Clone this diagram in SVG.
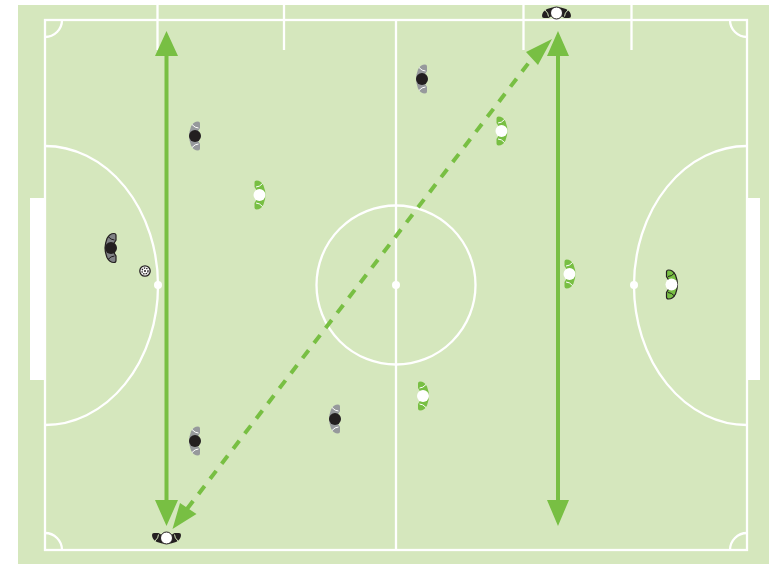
<svg xmlns="http://www.w3.org/2000/svg" width="769" height="564" viewBox="0 0 769 564">
<style>
.l{fill:none;stroke:#fff;stroke-width:2.300}
.a{fill:none;stroke:#78bf43;stroke-width:4}
.h{fill:#78bf43}
.s{fill:#fff}
.b{fill:var(--bf);stroke:var(--bs);stroke-width:var(--bw)}
.c{fill:none;stroke:var(--cs);stroke-width:1}
.d{fill:var(--df);stroke:var(--ds);stroke-width:1}
.gr{--bf:#96999c;--bs:none;--bw:0;--cs:#fff;--df:#231f20;--ds:none}
.gn{--bf:#78bf43;--bs:none;--bw:0;--cs:#fff;--df:#fff;--ds:none}
.kd{--bf:#808285;--bs:#231f20;--bw:1.200;--cs:#231f20;--df:#231f20;--ds:none}
.kg{--bf:#78bf43;--bs:#231f20;--bw:1.200;--cs:#231f20;--df:#fff;--ds:none}
.kw{--bf:#231f20;--bs:none;--bw:0;--cs:#d5e7bd;--df:#fff;--ds:#231f20}
</style>
<defs>
<g id="p">
<path class="b" d="M-5,-12.500Q-5,-14.500 -3,-14.500Q1.500,-14.500 4,-9.500Q6,-4 6,0Q6,4 4,9.500Q1.500,14.500 -3,14.500Q-5,14.500 -5,12.500L-5,8L0,0L-5,-8Z"/>
<path class="c" d="M-3.500,-8Q0,-8 3,-11.500M-3.500,8Q0,8 3,11.500"/>
<circle class="d" r="6"/>
</g>
</defs>
<rect x="18" y="5" width="751" height="559" fill="#d5e7bd"/>
<g id="pitch">
<rect x="45" y="20" width="702" height="530" class="l"/>
<path class="l" d="M396,20V550M157.500,5V50M284,5V50M523.500,5V50M631.500,5V50"/>
<circle cx="396" cy="285" r="79.500" class="l"/>
<path class="l" d="M45,146A113,139.500 0 0 1 45,425M747,146A113,139.500 0 0 0 747,425"/>
<path class="l" d="M45,37A17,17 0 0 0 62,20M730,20A17,17 0 0 0 747,37M45,533A17,17 0 0 1 62,550M730,550A17,17 0 0 1 747,533"/>
<rect x="30" y="198" width="15" height="182" class="s"/>
<rect x="746" y="198" width="14" height="182" class="s"/>
<circle cx="158" cy="285" r="4" class="s"/><circle cx="396" cy="285" r="4" class="s"/><circle cx="634" cy="285" r="4" class="s"/>
</g>
<g id="connectors">
<path class="a" d="M166.500,55V502"/><path class="h" d="M166.500,31L178,56H155ZM166.500,526L155,500H178Z"/>
<path class="a" d="M558,55V502"/><path class="h" d="M558,31L569,56H547ZM558,526L547,500H569Z"/>
<path class="a" d="M187,509L537,52" stroke-dasharray="10 9"/>
<path class="h" d="M172.500,529L180,503L196.500,514ZM552,39L526,52L538,65Z"/>
</g>
<g id="ball"><circle cx="145" cy="271" r="5.200" fill="#fff" stroke="#231f20" stroke-width="1.300"/><circle cx="145" cy="271" r="3" fill="none" stroke="#231f20" stroke-width="1.300" stroke-dasharray="1.500 1"/><circle cx="145" cy="271" r="1" fill="#231f20"/></g>
<g id="d1" class="gr"><use href="#p" transform="translate(422,79) scale(-1,1)"/></g>
<g id="d2" class="gr"><use href="#p" transform="translate(195,136) scale(-1,1)"/></g>
<g id="d3" class="gr"><use href="#p" transform="translate(195,441) scale(-1,1)"/></g>
<g id="d4" class="gr"><use href="#p" transform="translate(335,419) scale(-1,1)"/></g>
<g id="gk1" class="kd"><use href="#p" transform="translate(111,248) scale(-1,1)"/></g>
<g id="a1" class="gn"><use href="#p" transform="translate(501.500,131)"/></g>
<g id="a2" class="gn"><use href="#p" transform="translate(259.500,195)"/></g>
<g id="a3" class="gn"><use href="#p" transform="translate(569.500,274)"/></g>
<g id="a4" class="gn"><use href="#p" transform="translate(423,396)"/></g>
<g id="gk2" class="kg"><use href="#p" transform="translate(671.500,284.500)"/></g>
<g id="gk3" class="kw"><use href="#p" transform="translate(556.500,13) rotate(-90)"/></g>
<g id="gk4" class="kw"><use href="#p" transform="translate(166.500,538) rotate(90)"/></g>
</svg>
